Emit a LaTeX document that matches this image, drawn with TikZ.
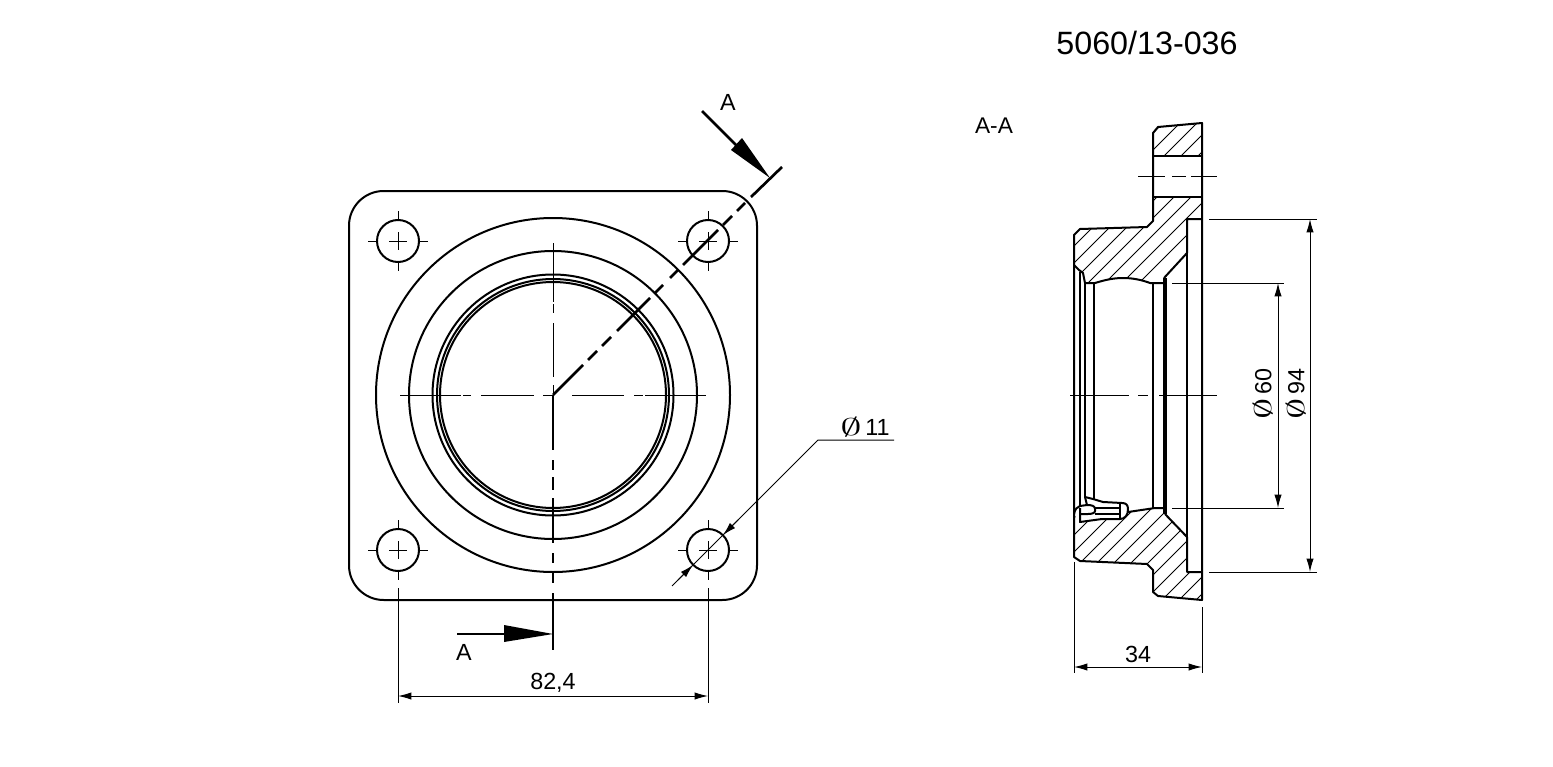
\documentclass[tikz,border=0pt]{standalone}
\usepackage{fontspec}
\usepackage{graphicx}
\setmainfont{Liberation Sans}
\usetikzlibrary{arrows.meta}
\tikzset{
  body/.style={line width=1.5pt, line join=round},
  thinline/.style={line width=0.75pt},
  hatchline/.style={line width=0.6pt},
  cutline/.style={line width=2pt},
  dimline/.style={line width=0.75pt, {Latex[length=10pt,width=5.5pt]}-{Latex[length=10pt,width=5.5pt]}},
  label/.style={font=\fontsize{17.5}{20}\selectfont, inner sep=0pt}
}
\newcommand{\diam}{\scalebox{1.85}[1.05]{$\emptyset$}}
\begin{document}
\begin{tikzpicture}[x=0.75pt,y=-0.75pt]
    \useasboundingbox (0,0) rectangle (1553,767);
    \fill[white] (0,0) rectangle (1553,767);
    % title
    \node[font=\fontsize{24.2}{28}\selectfont, inner sep=0pt] (title) at (1147,43) {5060/13-036};
    \node[label, font=\fontsize{17}{20}\selectfont] (secname) at (994,126) {A-A};

    % front view
    \coordinate (mid) at (553,395);
    \draw[body, rounded corners=26pt] (349,191) rectangle (757,600);
    \draw[body] (mid) circle[radius=177];
    \draw[body] (mid) circle[radius=144];
    \draw[body] (mid) circle[radius=120.5];
    \draw[body] (mid) circle[radius=116];
    \draw[body] (mid) circle[radius=113];
    \foreach \hx/\hy/\hname in {398/241/holeA, 708/241/holeB, 398/550/holeC, 708/550/holeD} {
        \coordinate (\hname) at (\hx,\hy);
        \draw[body] (\hname) circle[radius=21];
        \draw[thinline] (\hx-9,\hy) -- (\hx+9,\hy);
        \draw[thinline] (\hx,\hy-9) -- (\hx,\hy+9);
        \draw[thinline] (\hx-30,\hy) -- (\hx-20,\hy);
        \draw[thinline] (\hx+20,\hy) -- (\hx+30,\hy);
        \draw[thinline] (\hx,\hy-30) -- (\hx,\hy-20);
        \draw[thinline] (\hx,\hy+20) -- (\hx,\hy+30);
    }
    % centre lines
    \foreach \a/\b in {400/461, 463/471, 481/534, 543/553, 572/624, 634/643, 645/706}
        \draw[thinline] (\a,395) -- (\b,395);
    \foreach \a/\b in {243/302, 304/313, 323/377, 385/395}
        \draw[thinline] (553,\a) -- (553,\b);
    % section line
    \foreach \a/\b in {395/450, 460/470, 477/490, 498/543, 553/563, 573/583, 593/650}
        \draw[cutline] (553,\a) -- (553,\b);
    \foreach \a/\b in {553/583, 588/597, 602/611, 617/650, 655/663, 670/678, 683/718, 723/732, 737/745}
        \draw[cutline] ({\a},{948-\a}) -- ({\b},{948-\b});
    \draw[cutline] (751,197) -- (782,167);
    % section arrows
    \draw[cutline] (457,634) -- (505,634);
    \fill (504,625) -- (553,634) -- (504,642) -- cycle;
    \draw[cutline] (702,111) -- (738,147);
    \fill (742,138) -- (770,178) -- (731,150) -- cycle;
    \node[label] (cutA) at (464,652) {A};
    \node[label] (cutB) at (728,102) {A};

    % dimensions of front view
    \draw[thinline] (398,588) -- (398,703);
    \draw[thinline] (708,588) -- (708,703);
    \draw[dimline] (398,696) -- (708,696);
    \node[label] (pitch) at (553,683) {82,4};
    \coordinate (leadA) at (672,586);
    \coordinate (leadB) at (818,440);
    \coordinate (leadC) at (894,440);
    \draw[thinline] (leadA) -- (leadB) -- (leadC);
    \draw[thinline, -{Latex[length=10pt,width=5.5pt]}] (738,520) -- (723,535);
    \draw[thinline, -{Latex[length=10pt,width=5.5pt]}] (678,580) -- (693,565);
    \node[label] (holedia) at (865,427) {\diam\,11};

    % hatching of section
    \begin{scope}
        \clip (1153,133) -- (1158,127) -- (1202,123) -- (1202,156) -- (1153,156) -- cycle;
        \foreach \s in {1269,1286,...,1354}
            \draw[hatchline] (1100,\s-1100) -- (1250,\s-1250);
    \end{scope}
    \begin{scope}
        \clip (1153,197) -- (1202,197) -- (1202,219) -- (1187,219) -- (1187,253) -- (1164,278) -- (1164,283) -- (1150,283)
            .. controls (1142,280) and (1133,278) .. (1123,278) .. controls (1113,278) and (1105,280) .. (1095,283)
            -- (1086,283) -- (1083,273) -- (1079,270) -- (1074,265) -- (1074,235) -- (1080,229) -- (1147,227) -- (1153,221) -- cycle;
        \foreach \s in {1303,1320,...,1422}
            \draw[hatchline] (1050,\s-1050) -- (1250,\s-1250);
    \end{scope}
    \begin{scope}
        \clip (1074,515) -- (1080,522) -- (1102,519) -- (1120,519) -- (1127,515) -- (1128,512) -- (1155,508) -- (1165,508)
            -- (1165,514) -- (1187,537) -- (1187,572) -- (1202,572) -- (1202,600) -- (1158,596) -- (1153,592) -- (1153,570)
            -- (1147,564) -- (1080,561) -- (1074,557) -- cycle;
        \foreach \s in {1592,1609,...,1796}
            \draw[hatchline] (1050,\s-1050) -- (1250,\s-1250);
    \end{scope}

    % section outline
    \draw[body] (1153,133) -- (1158,127) -- (1202,123) -- (1202,600) -- (1158,596) -- (1153,592) -- (1153,570)
        -- (1147,564) -- (1080,561) -- (1074,557) -- (1074,235) -- (1080,229) -- (1147,227) -- (1153,221) -- cycle;
    \draw[body] (1153,156) -- (1202,156);
    \draw[body] (1153,197) -- (1202,197);
    \draw[body] (1202,219) -- (1187,219) -- (1187,253) -- (1164,278);
    \draw[body] (1202,572) -- (1187,572) -- (1187,537) -- (1165,514);
    \draw[body] (1074,265) -- (1079,270) -- (1083,273) -- (1085,283) -- (1095,283)
        .. controls (1105,280) and (1113,278) .. (1123,278) .. controls (1133,278) and (1142,280) .. (1150,283) -- (1164,283);
    \draw[body] (1187,253) -- (1187,537);
    \draw[line width=2.4pt] (1165,278) -- (1165,514);
    \draw[body] (1153,283) -- (1153,508);
    \draw[body] (1080,272) -- (1080,506);
    \draw[body] (1085,283) -- (1085,497);
    \draw[body] (1094,283) -- (1094,499);
    % groove at lower left
    \draw[body] (1165,508) -- (1155,508) -- (1128,512);
    \draw[body] (1085,497) -- (1093,499) -- (1103,502) -- (1122,503) .. controls (1126,503) and (1128,505) .. (1128,509)
        .. controls (1128,515) and (1125,519) .. (1120,519) -- (1102,519) -- (1080,522) -- (1080,508);
    \draw[body] (1074,514) .. controls (1075,509) and (1077,507) .. (1080,506) -- (1087,505);
    \draw[body] (1085,497) -- (1087,505) .. controls (1092,505) and (1095,506) .. (1095,509) -- (1095,511) .. controls (1095,513) and (1092,514) .. (1088,514) -- (1080,514);
    \draw[body] (1095,508) -- (1121,508);
    \draw[body] (1095,514) -- (1120,514);
    \draw[body] (1120,504) -- (1120,519);

    % centre lines of section
    \foreach \a/\b in {1138/1165, 1172/1186, 1191/1217}
        \draw[thinline] (\a,176) -- (\b,176);
    \foreach \a/\b in {1070/1129, 1138/1148, 1159/1217}
        \draw[thinline] (\a,395) -- (\b,395);

    % dimensions of section
    \draw[thinline] (1209,219) -- (1317,219);
    \draw[thinline] (1209,572) -- (1317,572);
    \draw[dimline] (1310,219) -- (1310,572);
    \draw[thinline] (1172,283) -- (1284,283);
    \draw[thinline] (1172,508) -- (1284,508);
    \draw[dimline] (1278,283) -- (1278,508);
    \node[label, rotate=90] (boredia) at (1263,394) {\diam\,60};
    \node[label, rotate=90] (outerdia) at (1296,394) {\diam\,94};
    \draw[thinline] (1074,562) -- (1074,673);
    \draw[thinline] (1202,607) -- (1202,673);
    \draw[dimline] (1074,667) -- (1202,667);
    \node[label] (depth) at (1138,654) {34};
\end{tikzpicture}
\end{document}
